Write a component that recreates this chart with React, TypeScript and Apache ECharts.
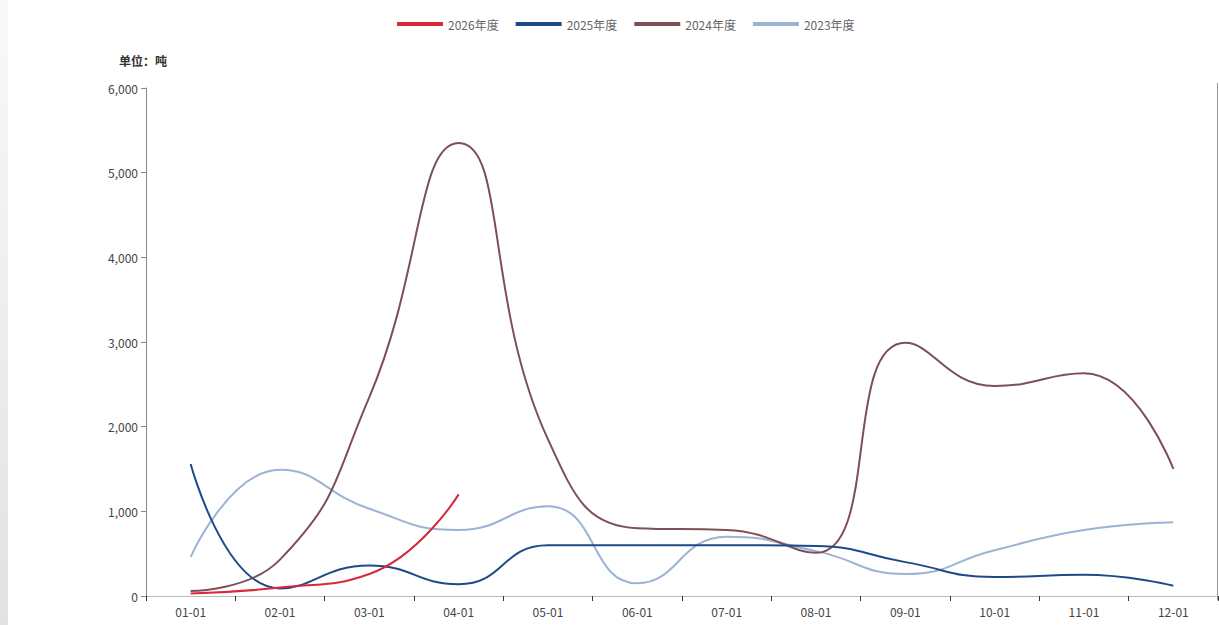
import React, { useEffect, useRef } from "react";
import * as echarts from "echarts";

const categories = ["01-01", "02-01", "03-01", "04-01", "05-01", "06-01", "07-01", "08-01", "09-01", "10-01", "11-01", "12-01"];
const seriesNames = ["2026年度", "2025年度", "2024年度", "2023年度"];
const values2026 = [30, 100, 260, 1200];
const values2025 = [1560, 90, 360, 140, 600, 600, 600, 590, 400, 225, 250, 120];
const values2024 = [60, 430, 2350, 5350, 1850, 800, 780, 510, 2990, 2480, 2630, 1500];
const values2023 = [460, 1490, 1030, 780, 1060, 150, 700, 530, 260, 540, 780, 870];
const colors = ["#d42a3a", "#1f4a88", "#7d5058", "#9db3d6"];
const yTicks = { min: 0, max: 6000, interval: 1000 };

export default function App() {
  const ref = useRef<HTMLDivElement>(null);
  useEffect(() => {
    if (!ref.current) return;
    const chart = echarts.init(ref.current, null, { renderer: "svg" });
    const data = [values2026, values2025, values2024, values2023];
    chart.setOption({
      animation: false,
      backgroundColor: "#ffffff",
      color: colors,
      textStyle: { fontFamily: "'Noto Sans CJK SC', 'Noto Sans', sans-serif" },
      legend: {
        top: 13,
        left: 392,
        icon: "rect",
        itemWidth: 46,
        itemHeight: 4,
        itemGap: 17,
        textStyle: { color: "#666", fontSize: 12 },
        data: seriesNames,
      },
      grid: { left: 146, right: 1, top: 88, bottom: 29, containLabel: false },
      xAxis: {
        type: "category",
        data: categories,
        boundaryGap: true,
        axisLine: { lineStyle: { color: "#bbb", width: 1 } },
        axisTick: { show: true, alignWithLabel: false, length: 5, lineStyle: { color: "#333" } },
        axisLabel: { color: "#444", fontSize: 12, margin: 9 },
      },
      yAxis: {
        type: "value",
        min: yTicks.min,
        max: yTicks.max,
        interval: yTicks.interval,
        name: "单位：吨",
        nameLocation: "end",
        nameGap: 22,
        nameTextStyle: { color: "#333", fontSize: 12, fontWeight: "bold", align: "center", padding: [0, 0, 0, -6] },
        splitLine: { show: false },
        axisLine: { show: true, lineStyle: { color: "#888", width: 1 } },
        axisTick: { show: true, length: 5, lineStyle: { color: "#888" } },
        axisLabel: {
          color: "#444",
          fontSize: 12,
          margin: 8,
          formatter: (v: number) => v.toLocaleString("en-US"),
        },
      },
      series: seriesNames.map((name, i) => ({
        name,
        type: "line",
        data: data[i],
        smooth: 0.5,
        showSymbol: false,
        symbol: "none",
        lineStyle: { width: 2, color: colors[i] },
        itemStyle: { color: colors[i] },
        z: 10 - i,
      })),
      graphic: [
        {
          type: "rect",
          left: 0,
          top: 0,
          shape: { width: 8, height: 625 },
          style: {
            fill: new echarts.graphic.LinearGradient(0, 0, 0, 1, [
              { offset: 0, color: "#f9f9f9" },
              { offset: 1, color: "#e2e2e2" },
            ]),
          },
          silent: true,
        },
        {
          type: "line",
          shape: { x1: 1217.5, y1: 83, x2: 1217.5, y2: 600 },
          style: { stroke: "#999", lineWidth: 1 },
          silent: true,
        },
      ],
    });
    return () => chart.dispose();
  }, []);
  return <div ref={ref} style={{ position: "fixed", left: 0, top: 0, width: 1219, height: 625 }} />;
}
